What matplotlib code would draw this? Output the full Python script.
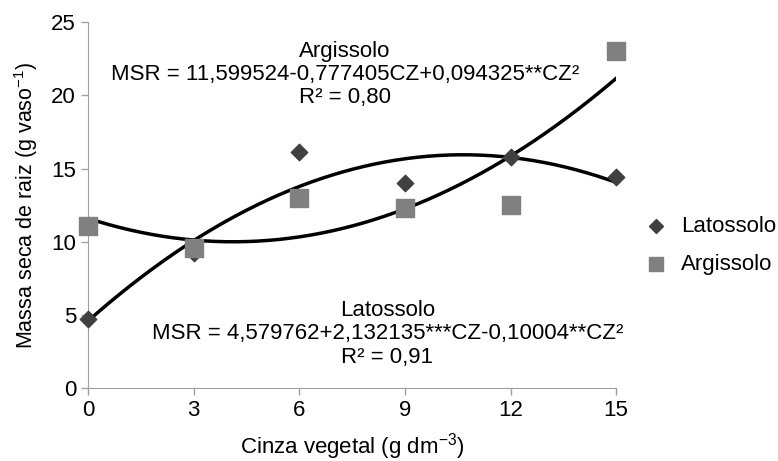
import numpy as np
import matplotlib.pyplot as plt

plt.rcParams['font.family'] = ['Liberation Sans', 'DejaVu Sans']
plt.rcParams['mathtext.default'] = 'regular'

# --- Data ---
doses = [0, 3, 6, 9, 12, 15]
latossolo = [4.7, 9.2, 16.1, 14.0, 15.8, 14.4]
argissolo = [11.1, 9.6, 13.0, 12.3, 12.5, 23.0]

# fitted equations printed on the chart (a + b*x + c*x^2)
coef_latossolo = [4.579762, 2.132135, -0.10004]
coef_argissolo = [11.599524, -0.777405, 0.094325]

fig = plt.figure(figsize=(7.78, 4.61), dpi=100)
ax = fig.add_axes([0.113, 0.158, 0.679, 0.794])

xs = np.linspace(0, 15, 200)
for c in (coef_latossolo, coef_argissolo):
    ax.plot(xs, c[0] + c[1] * xs + c[2] * xs ** 2, color="black", lw=2.5, zorder=2)

ax.scatter(doses, latossolo, marker="D", s=70, color="#404040", label="Latossolo", zorder=3,
           clip_on=False)
ax.scatter(doses, argissolo, marker="s", s=150, color="#808080", label="Argissolo", zorder=3,
           clip_on=False)

ax.set_xlim(0, 15)
ax.set_ylim(0, 25)
ax.set_xticks([0, 3, 6, 9, 12, 15])
ax.set_yticks([0, 5, 10, 15, 20, 25])
for s in ["top", "right"]:
    ax.spines[s].set_visible(False)
for s in ["left", "bottom"]:
    ax.spines[s].set_color("#a0a0a0")
ax.tick_params(colors="#a0a0a0", labelcolor="black", labelsize=16, length=5, width=1)

ax.set_xlabel("Cinza vegetal (g dm$^{-3}$)", fontsize=16, labelpad=7)
ax.set_ylabel("Massa seca de raiz (g vaso$^{-1}$)", fontsize=15.5, labelpad=8)

ax.text(7.3, 21.4, "Argissolo\nMSR = 11,599524-0,777405CZ+0,094325**CZ²\nR² = 0,80",
        ha="center", va="center", fontsize=16, linespacing=1.13, multialignment="center")
ax.text(8.5, 3.7, "Latossolo\nMSR = 4,579762+2,132135***CZ-0,10004**CZ²\nR² = 0,91",
        ha="center", va="center", fontsize=16, linespacing=1.13, multialignment="center")

ax.legend(loc="center left", bbox_to_anchor=(1.038, 0.39), frameon=False,
          fontsize=16, handlelength=1.0, handletextpad=0.6, labelspacing=0.8,
          borderaxespad=0, markerscale=0.85)

plt.savefig("out.png", dpi=100)
